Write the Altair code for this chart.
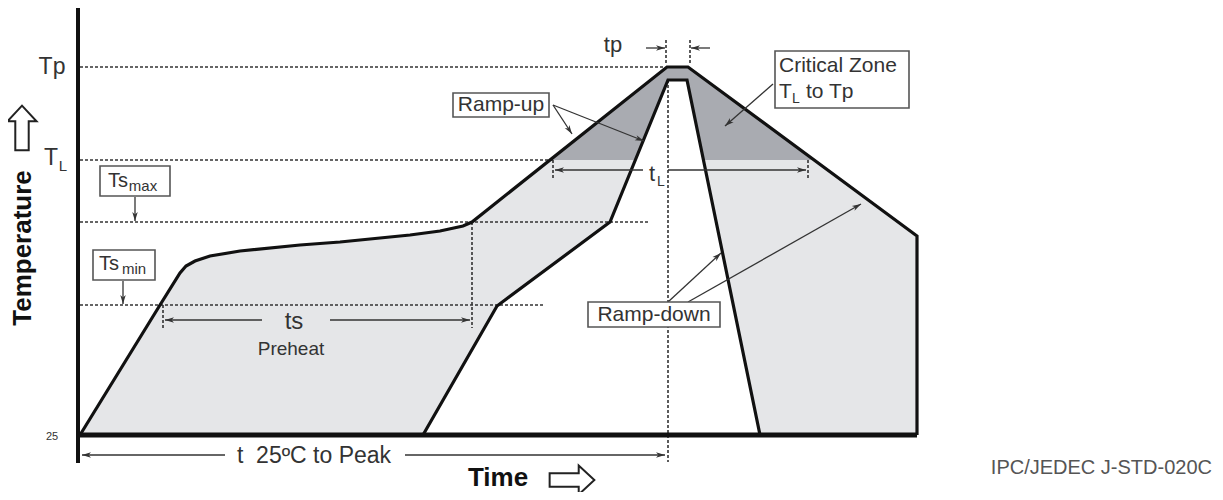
import math
import pandas as pd
import altair as alt

# ---- drawing units: time (x) and temperature (y, measured downward) ----
X_DOM = [8, 1215]
Y_DOM = [8, 492]

# levels
BASE = 435
TP_LEVEL = 67
TL_LEVEL = 160
TSMAX_LEVEL = 222
TSMIN_LEVEL = 305

# outer (max) profile
outer_t = [80, 160, 180, 186, 195, 210, 240, 300, 340, 380, 410, 440, 463, 472, 667, 688, 917, 917]
outer_T = [435, 305, 273, 266, 261, 256, 251, 245, 242, 238, 235, 231, 226, 222, 67, 67, 236, 435]

# inner (min) profile
inner_t = [423, 497, 610, 668, 687, 760]
inner_T = [435, 306, 222, 80, 80, 435]

# critical zone (outer profile above T_L)
crit_t = [549, 667, 688, 815]
crit_T = [160, 67, 67, 160]

# dotted reference lines (t1, t2, T1, T2)
dotted = [
    (80, 665, TP_LEVEL, TP_LEVEL),
    (80, 553, TL_LEVEL, TL_LEVEL),
    (80, 650, TSMAX_LEVEL, TSMAX_LEVEL),
    (80, 545, TSMIN_LEVEL, TSMIN_LEVEL),
    (668, 668, 80, 462),
    (472, 472, 222, 328),
    (163, 163, 305, 330),
    (553, 553, 160, 180),
    (808, 808, 160, 180),
    (666, 666, 40, 65),
    (690, 690, 40, 65),
]

# arrows with head at (t2, T2)
arrows = [
    (225, 82, 455, 455), (405, 665, 455, 455),
    (262, 165, 320, 320), (330, 470, 320, 320),
    (643, 555, 170, 170), (668, 806, 170, 170),
    (646, 665, 48, 48), (710, 691, 48, 48),
    (135, 135, 197, 221), (123, 123, 281, 304),
    (553, 572, 105, 134), (553, 644, 105, 141),
    (773, 725, 84, 126),
    (668, 721, 302, 253), (688, 861, 302, 204),
]

# label boxes (t1, t2, T1, T2)
boxes = [
    (100, 170, 166, 196),
    (93, 155, 250, 280),
    (453, 549, 93, 117),
    (775, 909, 51, 108),
    (588, 720, 302, 327),
]

# centered labels
c_text = ["Tp", "T", "L", "Ts", "max", "Ts", "min", "tp", "Ramp-up", "t", "L",
          "ts", "Preheat", "Ramp-down", "t\u00a0\u00a025ºC to Peak", "25"]
c_x = [52, 51, 63, 118, 143, 109, 134, 613, 501, 652, 661, 294, 291, 654, 314, 52]
c_y = [67, 158, 166, 181, 186, 264, 269, 45, 105, 174, 182, 322, 349, 315, 456, 437]
c_size = [23, 23, 15, 20, 15, 20, 15, 22, 21, 22, 14, 24, 19, 21, 23, 11]

# left-aligned labels
l_text = ["Critical Zone", "T", "L", "to Tp"]
l_x = [779, 779, 792, 806]
l_y = [66, 92, 99, 92]
l_size = [21, 21, 14, 21]

# bold axis titles
b_text = ["Temperature", "Time"]
b_x = [23, 498]
b_y = [248, 478]
b_ang = [270, 0]

# hollow direction arrows next to the axis titles
h_x = [22, 572]
h_y = [128, 480]
h_ang = [0, 90]

xs = alt.Scale(domain=X_DOM, nice=False, zero=False)
ys = alt.Scale(domain=Y_DOM, nice=False, zero=False, reverse=True)


def X(f):
    return alt.X(f, type="quantitative", scale=xs, axis=None)


def Y(f):
    return alt.Y(f, type="quantitative", scale=ys, axis=None)


outer_df = pd.DataFrame({"t": outer_t, "T": outer_T, "i": range(len(outer_t)), "b": BASE})
inner_df = pd.DataFrame({"t": inner_t, "T": inner_T, "i": range(len(inner_t)), "b": BASE})
crit_df = pd.DataFrame({"t": crit_t, "T": crit_T, "b": TL_LEVEL})

light = alt.Chart(outer_df.iloc[:-1]).mark_area(color="#e5e6e8", opacity=1).encode(
    x=X("t"), y=Y("T"), y2="b:Q")
dark = alt.Chart(crit_df).mark_area(color="#a9abb1", opacity=1).encode(
    x=X("t"), y=Y("T"), y2="b:Q")
white = alt.Chart(inner_df).mark_area(color="white", opacity=1).encode(
    x=X("t"), y=Y("T"), y2="b:Q")

dot_df = pd.DataFrame(dotted, columns=["t1", "t2", "T1", "T2"])
dots = alt.Chart(dot_df).mark_rule(color="#333", strokeWidth=1.6, strokeDash=[3, 2]).encode(
    x=X("t1"), x2="t2:Q", y=Y("T1"), y2="T2:Q")

outer_line = alt.Chart(outer_df).mark_line(color="#111", strokeWidth=3.2, strokeJoin="miter").encode(
    x=X("t"), y=Y("T"), order="i:Q")
inner_line = alt.Chart(inner_df).mark_line(color="#111", strokeWidth=3.2, strokeJoin="miter").encode(
    x=X("t"), y=Y("T"), order="i:Q")

axes_df = pd.DataFrame({"t1": [78, 78], "t2": [917, 78], "T1": [BASE, 8], "T2": [BASE, 463],
                        "w": [5, 4]})
axes = alt.Chart(axes_df).mark_rule(color="#111").encode(
    x=X("t1"), x2="t2:Q", y=Y("T1"), y2="T2:Q", strokeWidth=alt.StrokeWidth("w:Q", scale=None))

arr_df = pd.DataFrame(arrows, columns=["t1", "t2", "T1", "T2"])
arr_df["ang"] = [
    (math.degrees(math.atan2(r.t2 - r.t1, -(r.T2 - r.T1))) + 360) % 360 for r in arr_df.itertuples()
]
shafts_ = alt.Chart(arr_df).mark_rule(color="#333", strokeWidth=1.3).encode(
    x=X("t1"), x2="t2:Q", y=Y("T1"), y2="T2:Q")
heads = alt.Chart(arr_df).mark_point(
    shape="M0,0L0.55,1.8L0,1.3L-0.55,1.8Z", filled=True, color="#333", opacity=1, size=100
).encode(x=X("t2"), y=Y("T2"), angle=alt.Angle("ang:Q", scale=None))

box_df = pd.DataFrame(boxes, columns=["t1", "t2", "T1", "T2"])
box = alt.Chart(box_df).mark_rect(fill="white", stroke="#555", strokeWidth=1.6).encode(
    x=X("t1"), x2="t2:Q", y=Y("T1"), y2="T2:Q")

c_df = pd.DataFrame({"t": c_x, "T": c_y, "txt": c_text, "s": c_size})
ctext = alt.Chart(c_df).mark_text(font="Liberation Sans", color="#333", align="center",
                                  baseline="middle").encode(
    x=X("t"), y=Y("T"), text="txt:N", size=alt.Size("s:Q", scale=None))

l_df = pd.DataFrame({"t": l_x, "T": l_y, "txt": l_text, "s": l_size})
ltext = alt.Chart(l_df).mark_text(font="Liberation Sans", color="#333", align="left",
                                  baseline="middle").encode(
    x=X("t"), y=Y("T"), text="txt:N", size=alt.Size("s:Q", scale=None))

ipc_df = pd.DataFrame({"t": [1212], "T": [468], "txt": ["IPC/JEDEC J-STD-020C"]})
ipc = alt.Chart(ipc_df).mark_text(font="Liberation Sans", color="#555", align="right",
                                  baseline="middle", fontSize=20).encode(
    x=X("t"), y=Y("T"), text="txt:N")

b_df = pd.DataFrame({"t": b_x, "T": b_y, "txt": b_text, "a": b_ang})
btext = alt.Chart(b_df).mark_text(font="Liberation Sans", fontWeight="bold", color="#111",
                                  align="center", baseline="middle", fontSize=26).encode(
    x=X("t"), y=Y("T"), text="txt:N", angle=alt.Angle("a:Q", scale=None))

h_df = pd.DataFrame({"t": h_x, "T": h_y, "a": h_ang})
hollow = alt.Chart(h_df).mark_point(
    shape="M-0.3,1L-0.3,-0.3L-0.65,-0.3L0,-1L0.65,-0.3L0.3,-0.3L0.3,1Z",
    filled=False, fill="white", stroke="#222", strokeWidth=2, opacity=1, size=2000
).encode(x=X("t"), y=Y("T"), angle=alt.Angle("a:Q", scale=None))

chart = alt.layer(
    light, dark, white, dots, outer_line, inner_line, axes, shafts_, heads, box,
    ctext, ltext, ipc, btext, hollow
).properties(
    width=1207, height=484, padding=0,
    autosize=alt.AutoSizeParams(type="none"),
    background="white",
).configure_view(stroke=None)

chart.save("out.html", embed_options={"renderer": "svg", "actions": False})
